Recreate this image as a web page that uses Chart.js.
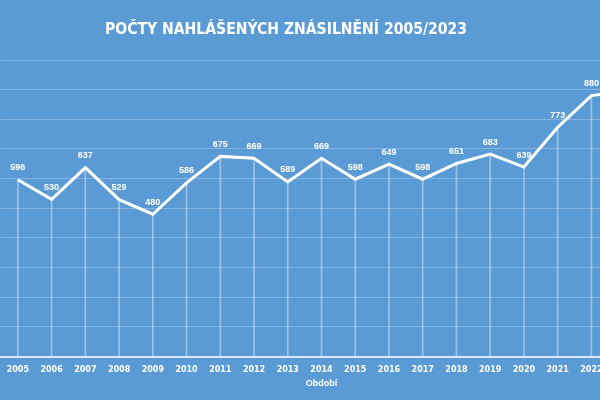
<!DOCTYPE html>
<html>
<head>
<meta charset="utf-8">
<script src="https://cdn.jsdelivr.net/npm/chart.js@4/dist/chart.umd.min.js"></script>
<style>
  html, body { margin:0; padding:0; width:600px; height:400px; overflow:hidden; background:#5b9bd5; }
  #wrap { position:relative; width:643px; height:400px; }
  #title { position:absolute; left:105px; top:18px; font-family:"DejaVu Sans Condensed","DejaVu Sans",sans-serif; font-weight:bold; font-size:16.5px; color:#fff; white-space:nowrap; transform-origin:0 0; line-height:22px; }
</style>
</head>
<body>
<div id="wrap">
  <canvas id="c" width="643" height="400" style="width:643px;height:400px"></canvas>
  <div id="title">POČTY NAHLÁŠENÝCH ZNÁSILNĚNÍ 2005/2023</div>
</div>
<script>
const years = ["2005","2006","2007","2008","2009","2010","2011","2012","2013","2014","2015","2016","2017","2018","2019","2020","2021","2022","2023"];
const cases = [596,530,637,529,480,586,675,669,589,669,598,649,598,651,683,639,773,880,895];
const axisTitle = "Období";

// fit title width
(function(){
  const t = document.getElementById('title');
  const w = t.getBoundingClientRect().width;
  t.style.transform = 'scaleX(' + (362 / w) + ')';
})();

const labelPlugin = {
  id: 'pointLabels',
  afterDatasetsDraw(chart) {
    const ctx = chart.ctx;
    const meta = chart.getDatasetMeta(1);
    const data = chart.data.datasets[1].data;
    ctx.save();
    ctx.font = 'bold 9px "Liberation Sans", Arial, sans-serif';
    ctx.fillStyle = '#ffffff';
    ctx.textAlign = 'center';
    ctx.textBaseline = 'middle';
    meta.data.forEach((pt, i) => {
      ctx.fillText(String(data[i]), pt.x, pt.y - 12);
    });
    ctx.restore();
  }
};

new Chart(document.getElementById('c'), {
  data: {
    labels: years,
    datasets: [
      {
        type: 'bar',
        data: cases,
        backgroundColor: 'rgba(255,255,255,0.4)',
        barThickness: 1,
        order: 2
      },
      {
        type: 'line',
        data: cases,
        borderColor: '#ffffff',
        borderWidth: 3,
        pointRadius: 0,
        tension: 0,
        fill: false,
        order: 1
      }
    ]
  },
  options: {
    responsive: false,
    animation: false,
    layout: { padding: { top: 60, left: 1, right: 1, bottom: 11 } },
    plugins: {
      legend: { display: false },
      tooltip: { enabled: false },
      title: { display: false }
    },
    scales: {
      x: {
        offset: true,
        grid: { display: false },
        border: { display: true, color: 'rgba(255,255,255,0.75)', width: 2 },
        ticks: { color: '#ffffff', font: { family: '"DejaVu Sans", sans-serif', weight: 'bold', size: 8 }, padding: 1, maxRotation: 0, autoSkip: false },
        title: { display: true, text: axisTitle, color: '#ffffff', font: { family: '"Liberation Sans", Arial, sans-serif', weight: 'bold', size: 9 }, padding: { top: 2, bottom: 0 } }
      },
      y: {
        min: 0,
        max: 1000,
        ticks: { display: false, stepSize: 100 },
        grid: { color: 'rgba(255,255,255,0.25)', lineWidth: 1, drawTicks: false },
        border: { display: false }
      }
    }
  },
  plugins: [labelPlugin]
});
</script>
</body>
</html>
